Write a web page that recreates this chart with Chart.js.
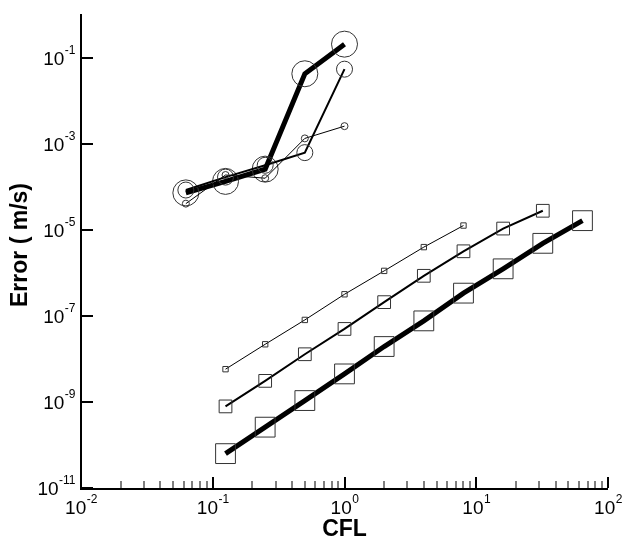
<!DOCTYPE html>
<html>
<head>
<meta charset="utf-8">
<script src="https://cdn.jsdelivr.net/npm/chart.js@4.4.1/dist/chart.umd.min.js"></script>
<style>
  html, body { margin: 0; padding: 0; background: #fff; }
  #wrap { width: 623px; height: 544px; }
</style>
</head>
<body>
<div id="wrap"><canvas id="chart" width="623" height="544"></canvas></div>
<script>
// CFL values
const cflCircle = [0.0625, 0.125, 0.25, 0.5, 1]
const cflSquare = [0.125, 0.25, 0.5, 1, 2, 4, 8, 16, 32, 64]

// error values, circle runs (top group)
const circleThick = [7.3e-5, 1.35e-4, 2.6e-4, 0.043, 0.21]
const circleMedium = [8.5e-5, 1.7e-4, 3.2e-4, 6.3e-4, 0.055]
const circleThin = [4.1e-5, 1.9e-4, 1.6e-4, 1.35e-3, 2.6e-3]

// error values, square runs (bottom group)
const squareThin = [5.8e-9, 2.2e-8, 8.1e-8, 3.2e-7, 1.12e-6, 4.0e-6, 1.27e-5]
const squareMedium = [7.9e-10, 3.1e-9, 1.29e-8, 5.0e-8, 2.1e-7, 8.6e-7, 3.2e-6, 1.08e-5, 2.8e-5]
const squareThick = [6.3e-11, 2.6e-10, 1.08e-9, 4.5e-9, 1.95e-8, 7.7e-8, 3.4e-7, 1.25e-6, 4.9e-6, 1.65e-5]

// tick label exponents
const xTickExps = [-2, -1, 0, 1, 2]
const yTickExps = [-1, -3, -5, -7, -9, -11]

const FONT = "'Liberation Sans', Arial, Helvetica, sans-serif"

function series(xs, ys, shape, radius, width) {
  return {
    data: ys.map((y, i) => ({ x: xs[i], y: y })),
    borderColor: "#000",
    borderWidth: width,
    pointStyle: shape,
    pointRadius: radius,
    pointHoverRadius: radius,
    pointBorderColor: "#333",
    pointBorderWidth: 1,
    pointBackgroundColor: "rgba(0,0,0,0)",
    tension: 0,
    fill: false,
  }
}

// draws "10" with a raised exponent
function drawPow(ctx, exp, x, y, align) {
  const base = "10"
  const sup = String(exp)
  ctx.font = "19px " + FONT
  const wb = ctx.measureText(base).width
  ctx.font = "12px " + FONT
  const ws = ctx.measureText(sup).width
  const w = wb + ws
  let x0 = align === "right" ? x - w : x - w / 2
  ctx.textAlign = "left"
  ctx.textBaseline = "middle"
  ctx.font = "19px " + FONT
  ctx.fillText(base, x0, y)
  ctx.font = "12px " + FONT
  ctx.fillText(sup, x0 + wb + 0.5, y - 9)
}

const axesPlugin = {
  id: "axes",
  afterDraw(chart) {
    const ctx = chart.ctx
    const area = chart.chartArea
    const xs = chart.scales.x
    const ys = chart.scales.y
    ctx.save()
    ctx.strokeStyle = "#000"
    ctx.fillStyle = "#000"

    // axis lines
    ctx.lineWidth = 2
    ctx.beginPath()
    ctx.moveTo(area.left, area.top - 1)
    ctx.lineTo(area.left, area.bottom + 1)
    ctx.lineTo(area.right, area.bottom + 1)
    ctx.stroke()

    // x ticks, major and minor
    for (let e = -2; e <= 2; e++) {
      for (let m = 1; m <= 9; m++) {
        if (e === 2 && m > 1) break
        const px = Math.round(xs.getPixelForValue(m * Math.pow(10, e)))
        ctx.lineWidth = m === 1 ? 2 : 1
        const len = m === 1 ? 11 : 7
        ctx.beginPath()
        ctx.moveTo(px, area.bottom)
        ctx.lineTo(px, area.bottom - len)
        ctx.stroke()
      }
    }
    xTickExps.forEach((e) => {
      drawPow(ctx, e, xs.getPixelForValue(Math.pow(10, e)), area.bottom + 21, "center")
    })

    // y ticks
    ctx.lineWidth = 2
    yTickExps.forEach((e) => {
      const py = Math.round(ys.getPixelForValue(Math.pow(10, e)))
      ctx.beginPath()
      ctx.moveTo(area.left, py)
      ctx.lineTo(area.left + 12, py)
      ctx.stroke()
      drawPow(ctx, e, area.left - 6, py + 2, "right")
    })

    // axis titles
    ctx.font = "bold 23px " + FONT
    ctx.textAlign = "center"
    ctx.textBaseline = "middle"
    ctx.fillText("CFL", (area.left + area.right) / 2, area.bottom + 42)
    ctx.save()
    ctx.translate(21, 245)
    ctx.rotate(-Math.PI / 2)
    ctx.fillText("Error ( m/s)", 0, 0)
    ctx.restore()

    ctx.restore()
  },
}

new Chart(document.getElementById("chart"), {
  type: "line",
  data: {
    datasets: [
      series(cflCircle, circleThin, "circle", 3.5, 1),
      series(cflCircle, circleMedium, "circle", 8, 2),
      series(cflCircle, circleThick, "circle", 13, 5),
      series(cflSquare, squareThin, "rect", 3.8, 1),
      series(cflSquare, squareMedium, "rect", 9, 2),
      series(cflSquare, squareThick, "rect", 14, 5),
    ],
  },
  options: {
    responsive: false,
    devicePixelRatio: 1,
    animation: false,
    layout: { padding: { left: 81, right: 13, top: 7, bottom: 56 } },
    plugins: { legend: { display: false }, tooltip: { enabled: false } },
    scales: {
      x: { type: "logarithmic", min: 0.01, max: 100, display: false },
      y: { type: "logarithmic", min: 1e-11, max: 1, display: false },
    },
  },
  plugins: [axesPlugin],
})
</script>
</body>
</html>
